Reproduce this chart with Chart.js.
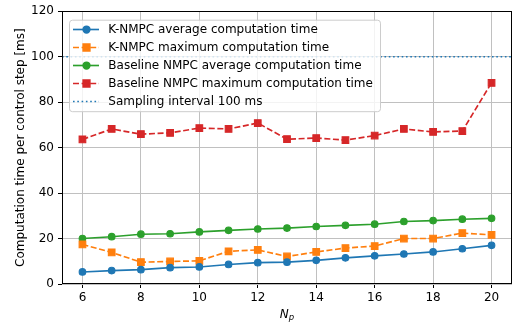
<!DOCTYPE html>
<html>
<head>
<meta charset="utf-8">
<script src="https://cdn.jsdelivr.net/npm/chart.js@4.4.1/dist/chart.umd.min.js"></script>
<style>
    html, body { margin: 0; padding: 0; background: #fff; }
    canvas { display: block; }
</style>
</head>
<body>
<canvas id="chart" width="520" height="322"></canvas>
<script>
// prediction horizons N_p
const horizons = [6, 7, 8, 9, 10, 11, 12, 13, 14, 15, 16, 17, 18, 19, 20];
const knmpcAvg = [5.3, 5.9, 6.3, 7.2, 7.5, 8.6, 9.4, 9.6, 10.4, 11.5, 12.4, 13.2, 14.1, 15.5, 17.0];
const knmpcMax = [17.4, 13.9, 9.6, 9.9, 10.2, 14.4, 15.0, 12.1, 14.1, 15.8, 16.7, 20.0, 20.0, 22.4, 21.6];
const baselineAvg = [20.0, 20.8, 21.9, 22.1, 22.9, 23.6, 24.2, 24.6, 25.3, 25.8, 26.3, 27.5, 27.9, 28.5, 28.9];
const baselineMax = [63.6, 68.2, 65.9, 66.5, 68.6, 68.2, 70.8, 63.7, 64.2, 63.3, 65.3, 68.2, 66.9, 67.3, 88.5];
const samplingInterval = 100;

const xTicks = [6, 8, 10, 12, 14, 16, 18, 20];
const yTicks = [0, 20, 40, 60, 80, 100, 120];
const xLimits = [5.3, 20.7];
const yLimits = [0, 120];

const FONT = "'DejaVu Sans', sans-serif";
Chart.defaults.font.family = FONT;
Chart.defaults.font.size = 12;
Chart.defaults.color = '#000';

const toPoints = (values) => horizons.map((n, i) => ({ x: n, y: values[i] }));

const series = (label, values, color, style, dashed) => ({
    label,
    data: toPoints(values),
    borderColor: color,
    backgroundColor: color,
    borderWidth: 1.65,
    borderDash: dashed ? [6, 2.6] : [],
    pointStyle: style,
    pointRadius: style === 'rect' ? 4.7 : 3.3,
    pointBorderWidth: 1.1,
    pointHoverRadius: 4,
    tension: 0
});

// matplotlib-style frame + axis titles
const frame = {
    id: 'frame',
    afterDatasetsDraw(chart) {
        const { ctx, chartArea: a } = chart;
        ctx.save();
        ctx.strokeStyle = '#000';
        ctx.lineWidth = 1;
        ctx.strokeRect(Math.round(a.left) + 0.5, Math.round(a.top) + 0.5,
            Math.round(a.right - a.left) - 1, Math.round(a.bottom - a.top) - 1);

        ctx.fillStyle = '#000';
        ctx.textAlign = 'center';
        ctx.textBaseline = 'middle';
        ctx.font = `12px ${FONT}`;
        ctx.translate(21, (a.top + a.bottom) / 2);
        ctx.rotate(-Math.PI / 2);
        ctx.fillText('Computation time per control step [ms]', 0, 0);
        ctx.restore();

        ctx.save();
        ctx.fillStyle = '#000';
        ctx.textBaseline = 'alphabetic';
        ctx.font = `italic 12px ${FONT}`;
        const wN = ctx.measureText('N').width;
        ctx.font = `italic 8.5px ${FONT}`;
        const wp = ctx.measureText('p').width;
        const x0 = (a.left + a.right) / 2 - (wN + wp) / 2;
        ctx.font = `italic 12px ${FONT}`;
        ctx.fillText('N', x0, 317.5);
        ctx.font = `italic 8.5px ${FONT}`;
        ctx.fillText('p', x0 + wN, 319.5);
        ctx.restore();
    }
};

const legendBox = {
    id: 'legendBox',
    afterDraw(chart) {
        const { ctx, chartArea: a } = chart;
        const x0 = a.left + 7.5, y0 = a.top + 9, w = 311, h = 91.5;
        ctx.save();
        ctx.beginPath();
        ctx.roundRect(x0, y0, w, h, 3);
        ctx.fillStyle = 'rgba(255,255,255,0.8)';
        ctx.fill();
        ctx.strokeStyle = '#cccccc';
        ctx.lineWidth = 1;
        ctx.stroke();

        chart.data.datasets.forEach((ds, i) => {
            const cy = y0 + 9.3 + i * 18;
            ctx.strokeStyle = ds.borderColor;
            ctx.fillStyle = ds.borderColor;
            ctx.lineWidth = ds.borderWidth;
            ctx.setLineDash(ds.borderDash || []);
            ctx.beginPath();
            ctx.moveTo(x0 + 3.5, cy);
            ctx.lineTo(x0 + 29.5, cy);
            ctx.stroke();
            ctx.setLineDash([]);
            if (ds.pointRadius > 0) {
                Chart.helpers.drawPoint(ctx, {
                    pointStyle: ds.pointStyle,
                    radius: ds.pointRadius,
                    borderWidth: ds.pointBorderWidth,
                    rotation: 0
                }, x0 + 17, cy);
            }
            ctx.fillStyle = '#000';
            ctx.font = `12px ${FONT}`;
            ctx.textAlign = 'left';
            ctx.textBaseline = 'middle';
            ctx.fillText(ds.label, x0 + 38.8, cy + 0.5);
        });
        ctx.restore();
    }
};

new Chart(document.getElementById('chart'), {
    type: 'line',
    data: {
        datasets: [
            series('K-NMPC average computation time', knmpcAvg, '#1f77b4', 'circle', false),
            series('K-NMPC maximum computation time', knmpcMax, '#ff7f0e', 'rect', true),
            series('Baseline NMPC average computation time', baselineAvg, '#2ca02c', 'circle', false),
            series('Baseline NMPC maximum computation time', baselineMax, '#d62728', 'rect', true),
            {
                label: 'Sampling interval 100 ms',
                data: xLimits.map((x) => ({ x, y: samplingInterval })),
                borderColor: '#1f77b4',
                borderWidth: 1.5,
                borderDash: [1.6, 2.7],
                pointRadius: 0,
                pointHoverRadius: 0
            }
        ]
    },
    options: {
        responsive: false,
        animation: false,
        devicePixelRatio: 1,
        layout: { padding: { top: 6, right: 8, left: 0, bottom: 0 } },
        plugins: {
            legend: { display: false },
            tooltip: { enabled: false }
        },
        scales: {
            x: {
                type: 'linear',
                min: xLimits[0],
                max: xLimits[1],
                afterBuildTicks: (scale) => { scale.ticks = xTicks.map((value) => ({ value })); },
                afterFit: (scale) => { scale.height = 38; },
                ticks: { padding: 3, maxRotation: 0, color: '#000' },
                grid: { color: '#c0c0c0', lineWidth: 1, tickColor: '#000', tickLength: 4 },
                border: { display: false }
            },
            y: {
                type: 'linear',
                min: yLimits[0],
                max: yLimits[1],
                afterBuildTicks: (scale) => { scale.ticks = yTicks.map((value) => ({ value })); },
                afterFit: (scale) => { scale.width = 62; },
                ticks: { padding: 4, color: '#000' },
                grid: { color: '#c0c0c0', lineWidth: 1, tickColor: '#000', tickLength: 4 },
                border: { display: false }
            }
        }
    },
    plugins: [frame, legendBox]
});
</script>
</body>
</html>
